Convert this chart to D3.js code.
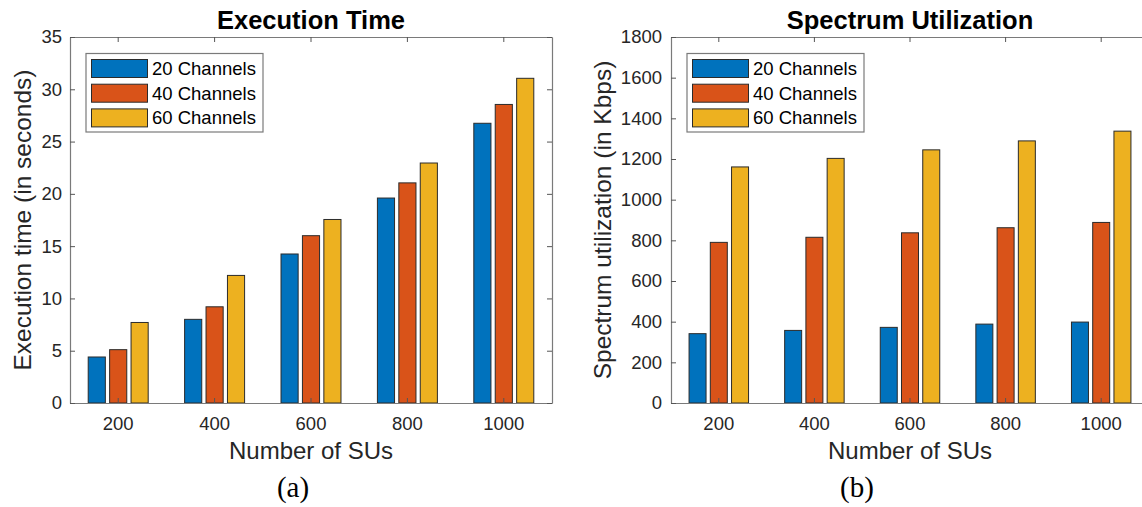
<!DOCTYPE html>
<html>
<head>
<meta charset="utf-8">
<script src="https://cdn.jsdelivr.net/npm/d3@7"></script>
<style>
  html, body { margin: 0; padding: 0; background: #fff; }
  svg { display: block; }
  .tick text { font-family: "Liberation Sans", Arial, sans-serif; font-size: 18.5px; fill: #262626; }
</style>
</head>
<body>
<div id="chart"></div>
<script>
// ---- dados ----
const categories = [200, 400, 600, 800, 1000];
const seriesNames = ["20 Channels", "40 Channels", "60 Channels"];
const seriesColors = ["#0072BD", "#D95319", "#EDB120"];

const execTime20 = [4.4, 8.0, 14.25, 19.6, 26.75];
const execTime40 = [5.1, 9.2, 16.0, 21.05, 28.55];
const execTime60 = [7.7, 12.2, 17.55, 22.95, 31.05];
const execTicks = [0, 5, 10, 15, 20, 25, 30, 35];

const spectrum20 = [341, 357, 372, 388, 398];
const spectrum40 = [790, 815, 837, 862, 888];
const spectrum60 = [1161, 1203, 1245, 1289, 1337];
const spectrumTicks = [0, 200, 400, 600, 800, 1000, 1200, 1400, 1600, 1800];

const W = 1142, H = 507;
const svg = d3.select("#chart").append("svg")
  .attr("width", W).attr("height", H);

function drawPanel(o) {
  const top = 37, bottom = 403;
  const g = svg.append("g");

  const x = d3.scaleBand().domain(categories).range([o.left, o.right]).padding(0);
  const inner = d3.scaleBand().domain(d3.range(seriesNames.length))
    .range([-x.bandwidth() / 3, x.bandwidth() / 3])
    .paddingInner(0.2).paddingOuter(0.1);
  const y = d3.scaleLinear().domain([0, o.ticks[o.ticks.length - 1]]).range([bottom, top]);

  // barras
  o.series.forEach((vals, si) => {
    g.append("g").selectAll("rect")
      .data(vals)
      .join("rect")
      .attr("x", (d, i) => x(categories[i]) + x.bandwidth() / 2 + inner(si))
      .attr("y", d => y(d))
      .attr("width", inner.bandwidth())
      .attr("height", d => y(0) - y(d))
      .attr("fill", seriesColors[si])
      .attr("stroke", "#2b2b2b")
      .attr("stroke-width", 1);
  });

  // eixos (ticks para dentro, caixa completa)
  const axisStyle = sel => {
    sel.select(".domain").attr("stroke", "#7a7a7a").attr("stroke-width", 1.2);
    sel.selectAll(".tick line").attr("stroke", "#555");
  };
  g.append("g").attr("transform", `translate(0,${bottom})`)
    .call(d3.axisBottom(x).tickSizeInner(-5).tickSizeOuter(0).tickPadding(14))
    .call(axisStyle);
  g.append("g").attr("transform", `translate(0,${top})`)
    .call(d3.axisTop(x).tickSizeInner(-5).tickSizeOuter(0).tickFormat(""))
    .call(axisStyle);
  g.append("g").attr("transform", `translate(${o.left},0)`)
    .call(d3.axisLeft(y).tickValues(o.ticks).tickFormat(d3.format("d"))
      .tickSizeInner(-5).tickSizeOuter(0).tickPadding(o.tickPad))
    .call(axisStyle);
  g.append("g").attr("transform", `translate(${o.right},0)`)
    .call(d3.axisRight(y).tickValues(o.ticks).tickSizeInner(-5).tickSizeOuter(0).tickFormat(""))
    .call(axisStyle);
  g.selectAll(".domain").attr("fill", "none");
  g.selectAll("text").attr("font-family", null).attr("font-size", null);

  // titulo
  const cx = (o.left + o.right) / 2;
  g.append("text")
    .attr("x", cx).attr("y", 29)
    .attr("text-anchor", "middle")
    .attr("font-family", "Liberation Sans, Arial, sans-serif")
    .attr("font-weight", "bold")
    .attr("font-size", "25.5px")
    .attr("fill", "#000")
    .text(o.title);

  // rotulo eixo x
  g.append("text")
    .attr("x", cx).attr("y", 459)
    .attr("text-anchor", "middle")
    .attr("font-family", "Liberation Sans, Arial, sans-serif")
    .attr("font-size", "24px")
    .attr("fill", "#262626")
    .text("Number of SUs");

  // rotulo eixo y
  g.append("text")
    .attr("transform", `translate(${o.yLabelX},${(top + bottom) / 2}) rotate(-90)`)
    .attr("text-anchor", "middle")
    .attr("font-family", "Liberation Sans, Arial, sans-serif")
    .attr("font-size", "24.5px")
    .attr("fill", "#262626")
    .text(o.yLabel);

  // legenda
  const lg = g.append("g").attr("transform", `translate(${o.left + 16},53.5)`);
  lg.append("rect")
    .attr("width", 177).attr("height", 78.5)
    .attr("fill", "#fff").attr("stroke", "#7a7a7a").attr("stroke-width", 1.2);
  seriesNames.forEach((name, i) => {
    const ry = 6 + i * 24.7;
    lg.append("rect")
      .attr("x", 5.5).attr("y", ry).attr("width", 56).attr("height", 18)
      .attr("fill", seriesColors[i]).attr("stroke", "#2b2b2b").attr("stroke-width", 1);
    lg.append("text")
      .attr("x", 66).attr("y", ry + 15.5)
      .attr("font-family", "Liberation Sans, Arial, sans-serif")
      .attr("font-size", "18.5px")
      .attr("fill", "#000")
      .text(name);
  });

  // sublegenda (a)/(b)
  svg.append("text")
    .attr("x", o.captionX).attr("y", 497)
    .attr("text-anchor", "middle")
    .attr("font-family", "Liberation Serif, 'Times New Roman', serif")
    .attr("font-size", "29px")
    .attr("fill", "#000")
    .text(o.caption);
}

drawPanel({
  left: 70, right: 552,
  series: [execTime20, execTime40, execTime60],
  ticks: execTicks, tickPad: 8,
  title: "Execution Time",
  yLabel: "Execution time (in seconds)", yLabelX: 31,
  caption: "(a)", captionX: 293
});

drawPanel({
  left: 671, right: 1149,
  series: [spectrum20, spectrum40, spectrum60],
  ticks: spectrumTicks, tickPad: 9,
  title: "Spectrum Utilization",
  yLabel: "Spectrum utilization (in Kbps)", yLabelX: 611,
  caption: "(b)", captionX: 857
});
</script>
</body>
</html>
